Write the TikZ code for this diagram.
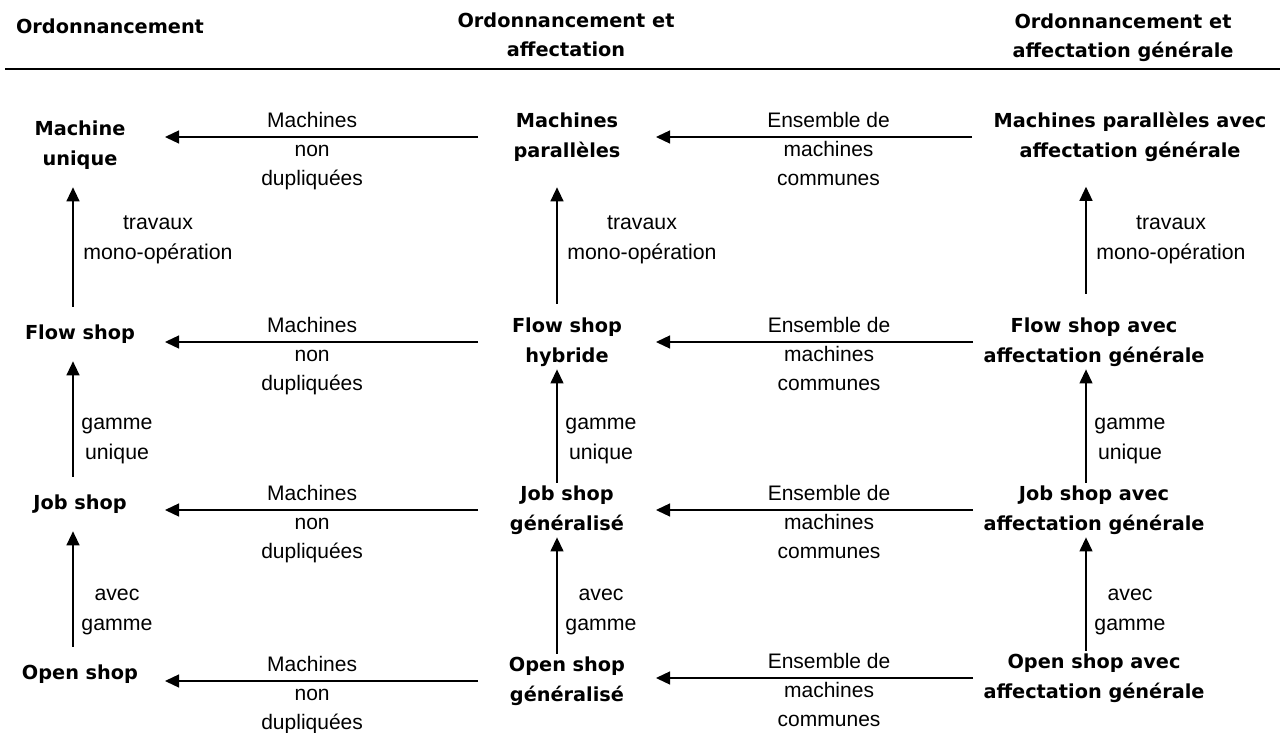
\documentclass[tikz,border=0pt]{standalone}
\usepackage{fontspec}
\setmainfont{Liberation Sans}
\newfontfamily\stagefont{DejaVu Sans}
\usetikzlibrary{arrows.meta}

\begin{document}
\begin{tikzpicture}[x=1pt,y=-1pt,
   stage/.style={font=\stagefont\bfseries\fontsize{19.3}{30}\selectfont,align=center,inner xsep=0pt,inner ysep=3pt,outer sep=0pt},
   colA/.style={stage,minimum width=170pt,inner ysep=18pt},
   colB/.style={stage,minimum width=178pt},
   colC/.style={stage,minimum width=242pt},
   heading/.style={font=\stagefont\bfseries\fontsize{19.3}{29}\selectfont,align=center,anchor=north,inner sep=0pt},
   hlab/.style={font=\fontsize{21}{29}\selectfont,align=center,anchor=north,yshift=25pt,inner sep=0pt},
   vlab/.style={font=\fontsize{21.3}{30}\selectfont,align=center,inner sep=0pt},
   flow/.style={line width=1.3pt,-{Triangle[length=14pt,width=13pt]}}]
   \useasboundingbox (0,0) rectangle (1286,733);
   \node [heading] (hA) at (110,19) {Ordonnancement};
   \node [heading] (hB) at (566,13) {Ordonnancement et\\affectation};
   \node [heading] (hC) at (1123,14) {Ordonnancement et\\affectation générale};
   \draw [line width=1.5pt] (5,69) -- (1280,69);
   \node [colA] (c1r1) at (80,145) {Machine\\unique};
   \node [colA] (c1r2) at (80,334) {Flow shop};
   \node [colA] (c1r3) at (80,504) {Job shop};
   \node [colA] (c1r4) at (80,674) {Open shop};
   \node [colB] (c2r1) at (567,137) {Machines\\parallèles};
   \node [colB] (c2r2) at (567,342) {Flow shop\\hybride};
   \node [colB] (c2r3) at (567,510) {Job shop\\généralisé};
   \node [colB] (c2r4) at (567,681) {Open shop\\généralisé};
   \node [colC,minimum width=316pt] (c3r1) at (1130,137) {Machines parallèles avec\\affectation générale};
   \node [colC] (c3r2) at (1094,342) {Flow shop avec\\affectation générale};
   \node [colC] (c3r3) at (1094,510) {Job shop avec\\affectation générale};
   \node [colC] (c3r4) at (1094,678) {Open shop avec\\affectation générale};
   \draw [flow] (c2r1.west) -- node [hlab,pos=0.53] {Machines\\non\\dupliquées} (c2r1.west -| c1r1.east);
   \draw [flow] (c2r2.west) -- node [hlab,pos=0.53] {Machines\\non\\dupliquées} (c2r2.west -| c1r2.east);
   \draw [flow] (c2r3.west) -- node [hlab,pos=0.53] {Machines\\non\\dupliquées} (c2r3.west -| c1r3.east);
   \draw [flow] (c2r4.west) -- node [hlab,pos=0.53] {Machines\\non\\dupliquées} (c2r4.west -| c1r4.east);
   \draw [flow] (c3r1.west) -- node [hlab,pos=0.454] {Ensemble de\\machines\\communes} (c3r1.west -| c2r1.east);
   \draw [flow] (c3r2.west) -- node [hlab,pos=0.454] {Ensemble de\\machines\\communes} (c3r2.west -| c2r2.east);
   \draw [flow] (c3r3.west) -- node [hlab,pos=0.454] {Ensemble de\\machines\\communes} (c3r3.west -| c2r3.east);
   \draw [flow] (c3r4.west) -- node [hlab,pos=0.454] {Ensemble de\\machines\\communes} (c3r4.west -| c2r4.east);
   \draw [flow] ([xshift=-7pt]c1r2.north) -- node [vlab,pos=0.56,xshift=85pt] {travaux\\mono-opération} ([xshift=-7pt]c1r1.south);
   \draw [flow] ([xshift=-7pt]c1r3.north) -- node [vlab,pos=0.31,xshift=44pt] {gamme\\unique} ([xshift=-7pt]c1r2.south);
   \draw [flow] ([xshift=-7pt]c1r4.north) -- node [vlab,pos=0.30,xshift=44pt] {avec\\gamme} ([xshift=-7pt]c1r3.south);
   \draw [flow,shorten <=11pt,shorten >=23pt] ([xshift=-10pt]c2r2.north) -- node [vlab,pos=0.50,xshift=85pt] {travaux\\mono-opération} ([xshift=-10pt]c2r1.south);
   \draw [flow] ([xshift=-10pt]c2r3.north) -- node [vlab,pos=0.37,xshift=44pt] {gamme\\unique} ([xshift=-10pt]c2r2.south);
   \draw [flow] ([xshift=-10pt]c2r4.north) -- node [vlab,pos=0.36,xshift=44pt] {avec\\gamme} ([xshift=-10pt]c2r3.south);
   \draw [flow,shorten <=21pt,shorten >=22pt] ([xshift=-8pt]c3r2.north) -- node [vlab,pos=0.50,xshift=85pt] {travaux\\mono-opération} ([xshift=-44pt]c3r1.south);
   \draw [flow] ([xshift=-8pt]c3r3.north) -- node [vlab,pos=0.37,xshift=44pt] {gamme\\unique} ([xshift=-8pt]c3r2.south);
   \draw [flow] ([xshift=-8pt]c3r4.north) -- node [vlab,pos=0.34,xshift=44pt] {avec\\gamme} ([xshift=-8pt]c3r3.south);
\end{tikzpicture}
\end{document}
